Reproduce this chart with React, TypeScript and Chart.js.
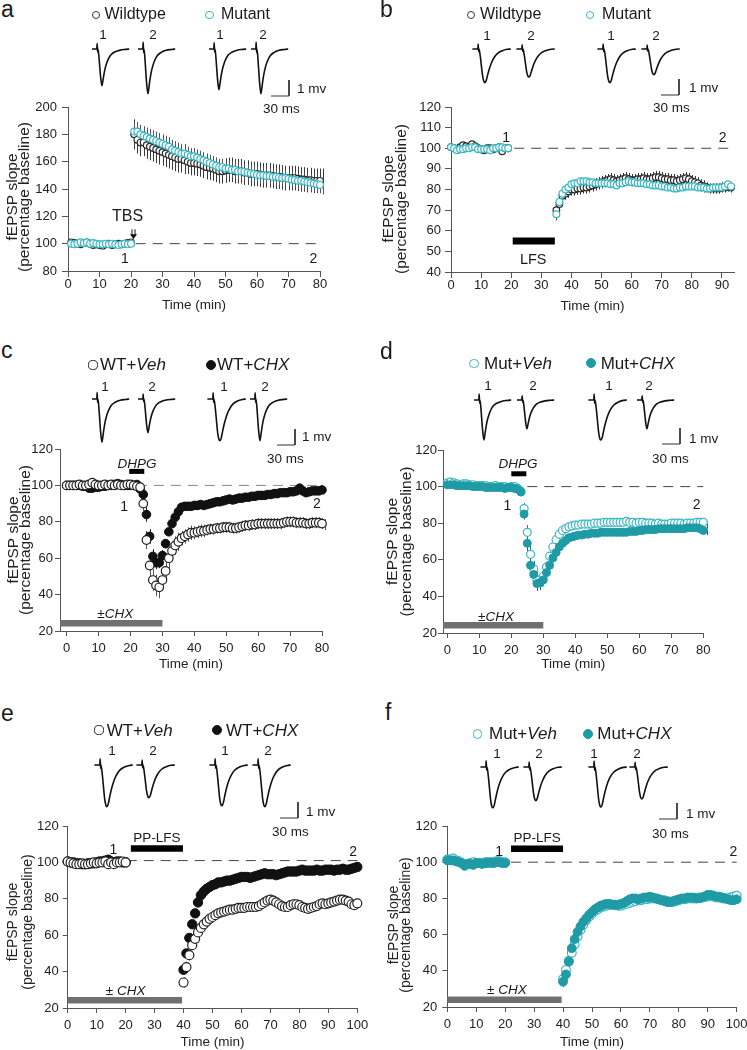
import React, { useEffect, useRef } from 'react';
import { Chart, registerables } from 'chart.js';

Chart.register(...registerables);

const FONT = "'Liberation Sans', Arial, Helvetica, sans-serif";
Chart.defaults.font.family = FONT;

const CYAN = '#3ab6c4';
const TEAL = '#1f9ba6';

// ---------------- DATA ----------------
// panel a: LTP (TBS), fEPSP slope (% baseline) vs time (min)
const A_TIME = [1,2,3,4,5,6,7,8,9,10,11,12,13,14,15,16,17,18,19,20,21,22,23,24,25,26,27,28,29,30,31,32,33,34,35,36,37,38,39,40,41,42,43,44,45,46,47,48,49,50,51,52,53,54,55,56,57,58,59,60,61,62,63,64,65,66,67,68,69,70,71,72,73,74,75,76,77,78,79,80,81];
const A_WT = [101,100.5,100,99.5,100.5,101,100,99,99.5,99,98.5,99.5,100,99,99.5,100,99.5,100,100.5,101,
  180,176,174,174,172,171,170,169,168,167,
  166,165,164,163,162,162,161,160,159,159,
  158.5,158,157,156,155.5,155,154,153,153,153.5,
  154,154,153,153,153,152,152,151,151,151,
  150.5,150,150,150,149.5,149,149,148.5,148,148,
  148,148,147.5,147,147,146.5,146.5,146,146,146,
  146];
const A_WT_ERR = [1,1,1,1,1,1,1,1,1,1,1,1,1,1,1,1,1,1,1,1,
  11,10,10,10,10,10,10,10,10,10,
  10,10,10,10,10,10,10,9,9,9,
  9,9,9,9,9,9,9,9,9,9,
  9,9,9,9,9,9,9,9,9,9,
  9,9,9,9,9,9,9,9,9,9,
  9,9,9,9,9,9,9,9,9,9,
  9];
const A_MUT = [100,99.5,100,101,100.5,101,100,100.5,100,99.5,99.5,100,99.5,100,99.5,99,99.5,100,99.5,100,
  182,182,180,179,178,177,176,175,174,173,
  172,171,169,168,167,166,166,165,164,164,
  163,162,161,160,159,158,157,156,156,155,
  155,154,154,153,153,152.5,152,151.5,151,150.5,
  150,150,149.5,149.5,149,149,148.5,148,148,147.5,
  147,146.5,146,146,145.5,145,144.5,144,143.5,143,
  142];
const A_MUT_ERR = [1,1,1,1,1,1,1,1,1,1,1,1,1,1,1,1,1,1,1,1,
  7,7,7,7,7,7,7,7,7,7,
  7,7,7,7,7,7,7,6,6,6,
  6,6,6,6,6,6,6,6,6,6,
  6,6,6,6,6,6,6,6,6,6,
  6,6,6,6,6,6,6,6,6,6,
  6,6,6,6,6,6,6,6,6,6,
  6];

// panel b: LTD (LFS)
const B_TIME = [0,1,2,3,4,5,6,7,8,9,10,11,12,13,14,15,16,17,18,19,
  35,36,37,38,39,40,41,42,43,44,45,46,47,48,49,50,51,52,53,54,55,56,57,58,59,60,61,62,63,64,
  65,66,67,68,69,70,71,72,73,74,75,76,77,78,79,80,81,82,83,84,85,86,87,88,89,90,91,92,93];
const B_WT = [100.5,100,99.5,100.5,101.5,101,100.5,102,101,100,99.5,99,100,100,99.5,100,100.5,98.5,100,100,
  70,73,77,78,79,80,80,80.5,80.5,81,
  81,81.5,82,82.5,83,83.5,84,84.5,85,84.5,
  84,84.5,85,85.5,85,84.5,84.5,85,85,85.5,
  85,85,85.5,86,86,85.5,85,85,84.5,84.5,
  84,84.5,85,85.5,85,84,83.5,83,82,81.5,
  81,80.5,80.5,80.5,80.5,81,81,81.5,81];
const B_WT_ERR = [1.5,1.5,1.5,1.5,1.5,1.5,1.5,1.5,1.5,1.5,1.5,1.5,1.5,1.5,1.5,1.5,1.5,1.5,1.5,1.5,
  4,3.5,3,3,3,3,3,3,3,3,
  3,3,3,3,3,3,3,3,3,3,
  3,3,3,3,3,3,3,3,3,3,
  3,3,3,3,3,3,3,3,3,3,
  3,3,3,3,3,3,3,3,3,3,
  2.5,2.5,2.5,2.5,2.5,2.5,2.5,2.5,2.5];
const B_MUT = [100.5,100,99,99.5,99.5,100,100,100.5,100.5,99.5,99.5,99.5,99.5,99,100,100,100.5,100.5,100,100,
  68,74,78,80,81,82.5,83,83,84,84,
  84,83.5,83.5,83,83,83,83,83,82.5,82.5,
  82,83,83,83.5,84,83.5,83.5,83,83,83,
  82.5,82.5,82,82,82,81.5,81.5,81,81,80.5,
  80.5,81,81,81.5,81.5,81.5,81.5,81,81,81,
  80.5,80.5,81,81,81,81,81.5,82.5,81.5];
const B_MUT_ERR = [0.8,0.8,0.8,0.8,0.8,0.8,0.8,0.8,0.8,0.8,0.8,0.8,0.8,0.8,0.8,0.8,0.8,0.8,0.8,0.8,
  3,2,2,1.5,1.5,1.5,1.5,1.5,1.5,1.5,
  1.5,1.5,1.5,1.5,1.5,1.5,1.5,1.5,1.5,1.5,
  1.5,1.5,1.5,1.5,1.5,1.5,1.5,1.5,1.5,1.5,
  1.5,1.5,1.5,1.5,1.5,1.5,1.5,1.5,1.5,1.5,
  1.5,1.5,1.5,1.5,1.5,1.5,1.5,1.5,1.5,1.5,
  1.5,1.5,1.5,1.5,1.5,1.5,1.5,1.5,1.5];

// panel c: WT, DHPG +/- CHX
const C_TIME = [0,1,2,3,4,5,6,7,8,9,10,11,12,13,14,15,16,17,18,19,20,21,22,23,24,25,26,27,28,29,30,31,32,33,34,35,36,37,38,39,40,41,42,43,44,45,46,47,48,49,50,51,52,53,54,55,56,57,58,59,60,61,62,63,64,65,66,67,68,69,70,71,72,73,74,75,76,77,78,79,80,81];
const C_VEH = [100,100,100,100,100.5,100,100,100.5,101.5,100.5,
  100,100,100.5,100,100.5,100,100.5,100,100,100.5,
  100.5,100,99.5,99,90,70,56,48,45,44,
  48,53,60,64,67,69,71,72,73,74,
  74,74.5,75,75,75.5,76,76,76.5,76.5,77,
  77,77,76.5,76.5,77,77.5,78,78,78.5,78.5,
  79,79,79,79,79,79,79,79,79.5,80,
  80,80,79.5,79.5,79.5,79,79,79.5,79.5,79.5,
  79,78.5];
const C_VEH_ERR = [1,1,1,1,1,1,1,1,1,1,
  1,1,1,1,1,1,1,1,1,1,
  1,1,1,1.5,4,5,6,6,6,6,
  6,6,6,5,5,5,4,4,4,4,
  3.5,3.5,3.5,3.5,3,3,3,3,3,3,
  3,3,3,3,3,3,3,3,3,3,
  3,3,3,3,3,3,3,3,3,3,
  3,3,3,3,3,3,3,3,3,3,
  3,3];
const C_CHX = [100,100,100,100,100,99.5,99.5,98.5,98.5,99,
  99,99.5,99.5,100,100,100.5,101,100.5,100,100,
  100,100,100.5,98,95,84,72,61,57.5,57.5,
  61.5,68,74.5,79,82.5,85.5,88,88.5,88.5,88.5,
  89,89,89.5,89,89.5,90,90.5,91,91,91.5,
  92,92.5,92,92.5,93,93,93.5,93.5,94,94,
  94.5,94.5,94.5,95,95,95.5,95.5,96,96,96,
  96.5,96.5,97,98.5,97,96,96.5,97,97,97,
  97.5,97.5];
const C_CHX_ERR = [0.8,0.8,0.8,0.8,0.8,0.8,0.8,0.8,0.8,0.8,
  0.8,0.8,0.8,0.8,0.8,0.8,0.8,0.8,0.8,0.8,
  0.8,0.8,0.8,1.5,3,4,4,4,3.5,3,
  3,2.5,2,1.5,1.5,1.5,1.5,1.5,1.5,1.5,
  1.5,1.5,1.5,1.5,1.5,1.5,1.5,1.5,1.5,1.5,
  1.5,1.5,1.5,1.5,1.5,1.5,1.5,1.5,1.5,1.5,
  1.5,1.5,1.5,1.5,1.5,1.5,1.5,1.5,1.5,1.5,
  1.5,1.5,1.5,1.5,1.5,1.5,1.5,1.5,1.5,1.5,
  1.5,1.5];

// panel d: mutant, DHPG +/- CHX
const D_TIME = [0,1,2,3,4,5,6,7,8,9,10,11,12,13,14,15,16,17,18,19,20,21,22,23,24,25,26,27,28,29,30,31,32,33,34,35,36,37,38,39,40,41,42,43,44,45,46,47,48,49,50,51,52,53,54,55,56,57,58,59,60,61,62,63,64,65,66,67,68,69,70,71,72,73,74,75,76,77,78,79,80,81];
const D_VEH = [102,102.5,102,101.5,101,101.5,101.5,101,101,100.5,
  100.5,100.5,100.5,100,100,100.5,100,100,100,99.5,
  100,100,99,97.5,88,75,63,55,49,47.5,
  51,56,62,67,71,74,76,77,78,78.5,
  79,79,79.5,79.5,79.5,79.5,80,80,80,80.5,
  80.5,80.5,80.5,80.5,80.5,80.5,81,80.5,80.5,80,
  80.5,80.5,80,80,80,79.5,80,79.5,79.5,79.5,
  80,80,80,80,79.5,80,80,80,80.5,80.5,
  80.5,78.5];
const D_VEH_ERR = [1,1,1,1,1,1,1,1,1,1,
  1,1,1,1,1,1,1,1,1,1,
  1,1,1,1.5,3,4,4.5,4.5,4.5,4,
  3.5,3,2.5,2,2,1.5,1.5,1.5,1.5,1.5,
  1.5,1.5,1.5,1.5,1.5,1.5,1.5,1.5,1.5,1.5,
  1.5,1.5,1.5,1.5,1.5,1.5,1.5,1.5,1.5,1.5,
  1.5,1.5,1.5,1.5,1.5,1.5,1.5,1.5,1.5,1.5,
  1.5,1.5,1.5,1.5,1.5,1.5,1.5,1.5,1.5,1.5,
  1.5,1.5];
const D_CHX = [101,101,101,100.5,100.5,100.5,100.5,100.5,100,100,
  100,100,99.5,99.5,99.5,99.5,99.5,99.5,99,99.5,
  99.5,99,98.5,97,85,69,57,52,47,47.5,
  49,53,57,61,64,67,69,70.5,72,72.5,
  73,73.5,73.5,74,74,74.5,74.5,74.5,75,75,
  75,75,75,75,75,75,75,75.5,75.5,75.5,
  76,76,76.5,76.5,76.5,76.5,77,77,77,77,
  77,77,77,77,77,77.5,77.5,77.5,77.5,77,
  76,75];
const D_CHX_ERR = [1,1,1,1,1,1,1,1,1,1,
  1,1,1,1,1,1,1,1,1,1,
  1,1,1,1.5,3,4.5,5,4.5,4,4,
  3.5,3,2.5,2,2,1.5,1.5,1.5,1.5,1.5,
  1.5,1.5,1.5,1.5,1.5,1.5,1.5,1.5,1.5,1.5,
  1.5,1.5,1.5,1.5,1.5,1.5,1.5,1.5,1.5,1.5,
  1.5,1.5,1.5,1.5,1.5,1.5,1.5,1.5,1.5,1.5,
  1.5,1.5,1.5,1.5,1.5,1.5,1.5,1.5,1.5,1.5,
  1.5,1.5];

// panel e: WT, PP-LFS +/- CHX
const E_TIME = [0,1,2,3,4,5,6,7,8,9,10,11,12,13,14,15,16,17,18,19,20,
  40,41,42,43,44,45,46,47,48,49,50,51,52,53,54,55,56,57,58,59,60,61,62,63,64,65,66,67,68,69,70,
  71,72,73,74,75,76,77,78,79,80,81,82,83,84,85,86,87,88,89,90,91,92,93,94,95,96,97,98,99,100];
const E_VEH = [100.5,100,99.5,99,99,99.5,99,99,99.5,100,
  99.5,100,100,100.5,99,100,99,100,100,100.5,
  100,
  34,42.5,49,54.5,58,61.5,64,66,67.5,69,
  70,71,72,72.5,73,73.5,74,74,74.5,75,
  75,75,75.5,75.5,75.5,75.5,76,77,78,79,
  79.5,79,78,77,76,75.5,75.5,76.5,77,77,
  76.5,75.5,75,74.5,75,75.5,76,77,77.5,77,
  77.5,78,78.5,79,79.5,79.5,79,78.5,77,76.5,
  77.5];
const E_VEH_ERR = [1,1,1,1,1,1,1,1,1,1,
  1,1,1,1,1,1,1,1,1,1,
  1,
  3,3,3,2.5,2.5,2.5,2.5,2.5,2.5,2.5,
  2.5,2.5,2.5,2.5,2.5,2.5,2.5,2.5,2.5,2.5,
  2.5,2.5,2.5,2.5,2.5,2.5,2.5,2.5,2.5,2.5,
  2.5,2.5,2.5,2.5,2.5,2.5,2.5,2.5,2.5,2.5,
  2.5,2.5,2.5,2.5,2.5,2.5,2.5,2.5,2.5,2.5,
  2.5,2.5,2.5,2.5,2.5,2.5,2.5,2.5,2.5,2.5,
  2.5];
const E_CHX = [100.5,100,100,99.5,99.5,99,99,99.5,99.5,99.5,
  100,100.5,100.5,101,101.5,100.5,100,100.5,100.5,100,
  100,
  41,50,58.5,66,72,78,82,84,85.5,86.5,
  87.5,88,89,89,89.5,90,90,90.5,91,91.5,
  92,92,92,91.5,92,92.5,93,93.5,94,93.5,
  93.5,93.5,93,93.5,94,94.5,95,95,95,95,
  95.5,96,95.5,95.5,95.5,95.5,96,95.5,95.5,96,
  96,96,95.5,96,96,96.5,96,96,96.5,97,
  97.5];
const E_CHX_ERR = [0.8,0.8,0.8,0.8,0.8,0.8,0.8,0.8,0.8,0.8,
  0.8,0.8,0.8,0.8,0.8,0.8,0.8,0.8,0.8,0.8,
  0.8,
  2,2,1.5,1.5,1,1,1,1,1,1,
  1,1,1,1,1,1,1,1,1,1,
  1,1,1,1,1,1,1,1,1,1,
  1,1,1,1,1,1,1,1,1,1,
  1,1,1,1,1,1,1,1,1,1,
  1,1,1,1,1,1,1,1,1,1,
  1];

// panel f: mutant, PP-LFS +/- CHX
const F_TIME = [0,1,2,3,4,5,6,7,8,9,10,11,12,13,14,15,16,17,18,19,20,
  40,41,42,43,44,45,46,47,48,49,50,51,52,53,54,55,56,57,58,59,60,61,62,63,64,65,66,67,68,69,70,
  71,72,73,74,75,76,77,78,79,80,81,82,83,84,85,86,87,88,89,90,91,92,93,94,95,96,97,98,99,100];
const F_VEH = [101.5,101.5,102,101,100.5,99.5,98.5,99,99.5,100,
  99.5,99.5,99.5,100,99.5,99.5,100,100.5,100.5,100,
  100,
  35.5,40.5,45.5,50,54.5,59,62.5,65.5,68,70,
  71.5,73,74,75,75.5,76,76.5,76.5,76.5,76,
  76,76.5,77,77.5,78,78.5,79,79,79.5,79.5,
  80,80,80,79.5,79,79,78.5,78,78,78.5,
  79,79.5,79.5,80,80,80,80,80.5,80.5,81,
  81,81.5,81,80.5,80.5,80,80,80,80.5,81,
  81.5];
const F_VEH_ERR = [1.2,1.2,1.2,1.2,1.2,1.2,1.2,1.2,1.2,1.2,
  1.2,1.2,1.2,1.2,1.2,1.2,1.2,1.2,1.2,1.2,
  1.2,
  3,2.5,2.5,2,2,2,2,1.5,1.5,1.5,
  1.5,1.5,1.5,1.5,1.5,1.5,1.5,1.5,1.5,1.5,
  1.5,1.5,1.5,1.5,1.5,1.5,1.5,1.5,1.5,1.5,
  1.5,1.5,1.5,1.5,1.5,1.5,1.5,1.5,1.5,1.5,
  1.5,1.5,1.5,1.5,1.5,1.5,1.5,1.5,1.5,1.5,
  1.5,1.5,1.5,1.5,1.5,1.5,1.5,1.5,1.5,1.5,
  1.5];
const F_CHX = [101,101,101,100.5,100,99.5,98,99,99,98.5,
  99.5,99.5,99,99.5,100,100,99.5,100,100,99.5,
  99.5,
  34,38,45,52.5,57.5,61.5,64.5,67,69,71,
  72.5,74,75,76,76.5,77,77,76.5,76.5,76.5,
  77,77.5,78.5,79.5,80,80,79.5,80,80.5,80.5,
  81,80.5,80,79.5,79,78.5,78,78,78.5,79,
  79.5,80,80,80.5,80.5,80.5,80,80,80.5,81,
  82,82,81.5,81,81,80.5,80,79.5,79,79,
  79.5];
const F_CHX_ERR = [1.2,1.2,1.2,1.2,1.2,1.2,1.2,1.2,1.2,1.2,
  1.2,1.2,1.2,1.2,1.2,1.2,1.2,1.2,1.2,1.2,
  1.2,
  3,2.5,2.5,2,2,2,2,1.5,1.5,1.5,
  1.5,1.5,1.5,1.5,1.5,1.5,1.5,1.5,1.5,1.5,
  1.5,1.5,1.5,1.5,1.5,1.5,1.5,1.5,1.5,1.5,
  1.5,1.5,1.5,1.5,1.5,1.5,1.5,1.5,1.5,1.5,
  1.5,1.5,1.5,1.5,1.5,1.5,1.5,1.5,1.5,1.5,
  1.5,1.5,1.5,1.5,1.5,1.5,1.5,1.5,1.5,1.5,
  1.5];

// example fEPSP waveforms (normalised to trough), time in ms
const WAVE_SHARP_MS = [0, 8, 8.6, 9.4, 10, 12, 14, 16.5, 18, 20, 22, 25, 28, 32, 38, 47, 56, 62];
const WAVE_SHARP_MV = [0, 0, 0.15, -0.08, 0, -0.3, -0.7, -1, -0.88, -0.68, -0.52, -0.36, -0.25, -0.15, -0.08, -0.03, -0.01, 0];
const WAVE_BROAD_MS = [0, 9, 9.6, 10.4, 11, 13, 15, 17, 19, 21, 23, 25, 28, 32, 36, 42, 50, 58, 64];
const WAVE_BROAD_MV = [0, 0, 0.15, -0.08, 0, -0.2, -0.5, -0.8, -0.96, -1, -0.94, -0.8, -0.6, -0.4, -0.26, -0.13, -0.05, -0.01, 0];
// trough amplitudes (mV) of the traces 1, 2 (left group) and 1, 2 (right group)
const A_TRACE_PEAK_MV = [2.3, 2.8, 2.55, 2.8];
const B_TRACE_PEAK_MV = [2.1, 1.75, 2.1, 1.6];
const C_TRACE_PEAK_MV = [2.7, 2.1, 2.6, 2.6];
const D_TRACE_PEAK_MV = [2.5, 1.8, 2.5, 1.8];
const E_TRACE_PEAK_MV = [2.6, 2.05, 2.55, 2.6];
const F_TRACE_PEAK_MV = [2.55, 2.1, 2.5, 2.0];
const SCALE_MV = 1;
const SCALE_MS = 30;
const Y_TITLE_LINES = ['fEPSP slope', '(percentage baseline)'];
const X_TITLE = 'Time (min)';

// ---------------- LAYOUT ----------------
type Seg = { t: string; i?: boolean };
const S = (t: string): Seg[] => [{ t }];

const SHAPES: Record<string, [number[], number[]]> = {
  S: [WAVE_SHARP_MS, WAVE_SHARP_MV],
  B: [WAVE_BROAD_MS, WAVE_BROAD_MV],
};

function openSeries(label: string, time: number[], values: number[], errs: number[], stroke: string, radius: number, errColor: string, order: number) {
  return { label, time, values, errs, stroke, fill: '#ffffff', radius, bw: 1.2, errColor, order };
}
function filledSeries(label: string, time: number[], values: number[], errs: number[], color: string, radius: number, errColor: string, order: number) {
  return { label, time, values, errs, stroke: color, fill: color, radius, bw: 1, errColor, order };
}

const PANELS: any[] = [
  {
    id: 'a', letter: { x: 1, y: 17.5 },
    legend: [
      { cx: 96, cy: 15, r: 4, stroke: '#333', fill: '#fff', tx: 104.5, ty: 19.5, size: 16, parts: S('Wildtype') },
      { cx: 209.5, cy: 15, r: 4.4, stroke: CYAN, fill: '#fff', tx: 221, ty: 19.5, size: 16, parts: S('Mutant') },
    ],
    traces: { baseline: 49, cx: 0, w: 374, starts: [92, 138, 209, 251], shapes: ['S', 'S', 'S', 'S'], peaks: A_TRACE_PEAK_MV,
      labelX: [103, 153, 220, 263], labelY: 39.5, bar: { x: 289, y: 96 }, mv: { x: 297, y: 93.5 }, ms: { x: 263, y: 113.5 } },
    canvas: { x: 0, y: 92, w: 345, h: 226 }, plot: { l: 68, r: 320, t: 107, b: 271 },
    xr: { min: 0, max: 80, step: 10 }, yr: { min: 80, max: 200, step: 20 },
    tick: { len: 6, xpad: 0, ypad: 5 },
    xTitleY: 305, yTitle: { size: 15.5, x1: 13, x2: 25, cy: 197 },
    refLine: { y: 100, from: 21.5, to: 80, color: '#444' },
    bars: [],
    notes: [
      { x: 18.9, y: 120.5, size: 16, parts: S('TBS') },
      { x: 18.1, y: 89.3, size: 14, parts: S('1') },
      { x: 77.9, y: 89.3, size: 14, parts: S('2') },
    ],
    arrow: { x: 20.5, y1: 110.5, y2: 103.2 },
    series: [
      openSeries('Wildtype', A_TIME, A_WT, A_WT_ERR, '#2b2b2b', 3.3, '#3a3a3a', 2),
      openSeries('Mutant', A_TIME, A_MUT, A_MUT_ERR, CYAN, 3.4, '#555', 1),
    ],
  },
  {
    id: 'b', letter: { x: 380, y: 17.5 },
    legend: [
      { cx: 471, cy: 15, r: 4, stroke: '#333', fill: '#fff', tx: 480, ty: 20, size: 16, parts: S('Wildtype') },
      { cx: 590, cy: 15, r: 4.4, stroke: CYAN, fill: '#fff', tx: 602, ty: 20, size: 16, parts: S('Mutant') },
    ],
    traces: { baseline: 49, cx: 374, w: 373, starts: [472.4, 516.4, 597.4, 641.4], shapes: ['B', 'B', 'B', 'B'], peaks: B_TRACE_PEAK_MV,
      labelX: [487, 531, 611, 656], labelY: 40.7, bar: { x: 679, y: 95 }, mv: { x: 689, y: 92.3 }, ms: { x: 653, y: 112.7 } },
    canvas: { x: 374, y: 92, w: 373, h: 226 }, plot: { l: 451, r: 734, t: 107, b: 272 },
    xr: { min: 0, max: 94, step: 10 }, yr: { min: 40, max: 120, step: 10 },
    tick: { len: 6, xpad: 0, ypad: 4 },
    xTitleY: 306.7, yTitle: { size: 15.5, x1: 389, x2: 402, cy: 199 },
    refLine: { y: 100, from: 21, to: 94, color: '#444' },
    bars: [{ from: 20.5, to: 34.5, y: 55, width: 7, color: '#000' }],
    notes: [
      { x: 27.3, y: 46.6, size: 14.5, parts: S('LFS') },
      { x: 18.3, y: 105.3, size: 14, parts: S('1') },
      { x: 90.2, y: 105.3, size: 14, parts: S('2') },
    ],
    series: [
      openSeries('Wildtype', B_TIME, B_WT, B_WT_ERR, '#2b2b2b', 3.3, '#333', 2),
      openSeries('Mutant', B_TIME, B_MUT, B_MUT_ERR, CYAN, 3.4, '#555', 1),
    ],
  },
  {
    id: 'c', letter: { x: 1, y: 358.5 },
    legend: [
      { cx: 93, cy: 365, r: 4.6, stroke: '#222', fill: '#fff', tx: 100, ty: 370, size: 17, parts: [{ t: 'WT+' }, { t: 'Veh', i: true }] },
      { cx: 211, cy: 365, r: 5, stroke: '#111', fill: '#111', tx: 217, ty: 370, size: 17, parts: [{ t: 'WT+' }, { t: 'CHX', i: true }] },
    ],
    traces: { baseline: 399, cx: 0, w: 374, starts: [92, 138, 207.4, 250], shapes: ['S', 'S', 'B', 'S'], peaks: C_TRACE_PEAK_MV,
      labelX: [105, 152, 224, 265], labelY: 391.7, bar: { x: 295, y: 445 }, mv: { x: 302, y: 441.7 }, ms: { x: 267, y: 463.3 } },
    canvas: { x: 0, y: 436, w: 345, h: 244 }, plot: { l: 60, r: 322, t: 449, b: 631 },
    xr: { min: -2.1, max: 80, step: 10 }, yr: { min: 20, max: 120, step: 20 },
    tick: { len: 5, xpad: 5, ypad: 2 },
    xTitleY: 664, yTitle: { size: 15.5, x1: 13.3, x2: 25.5, cy: 540 },
    refLine: { y: 100, from: 22, to: 80, color: '#888' },
    bars: [
      { from: 19.6, to: 24.3, y: 107.7, width: 5, color: '#000' },
      { from: -2.1, to: 30, y: 24.2, width: 6.5, color: '#707070' },
    ],
    notes: [
      { x: 22, y: 112.3, size: 13.5, parts: [{ t: 'DHPG', i: true }] },
      { x: 15.2, y: 29.9, size: 13.5, parts: [{ t: '±' }, { t: 'CHX', i: true }] },
      { x: 18, y: 88.8, size: 14, parts: S('1') },
      { x: 78.4, y: 90.6, size: 14, parts: S('2') },
    ],
    series: [
      openSeries('WT+Veh', C_TIME, C_VEH, C_VEH_ERR, '#222', 4.3, '#555', 1),
      filledSeries('WT+CHX', C_TIME, C_CHX, C_CHX_ERR, '#111', 4.3, '#222', 2),
    ],
  },
  {
    id: 'd', letter: { x: 380, y: 359.5 },
    legend: [
      { cx: 474, cy: 363.3, r: 4.6, stroke: CYAN, fill: '#fff', tx: 484, ty: 369.3, size: 17, parts: [{ t: 'Mut+' }, { t: 'Veh', i: true }] },
      { cx: 591.3, cy: 363.3, r: 5, stroke: TEAL, fill: TEAL, tx: 600.7, ty: 369.3, size: 17, parts: [{ t: 'Mut+' }, { t: 'CHX', i: true }] },
    ],
    traces: { baseline: 400, cx: 374, w: 373, starts: [474, 517, 588.4, 637], shapes: ['S', 'S', 'B', 'S'], peaks: D_TRACE_PEAK_MV,
      labelX: [488, 533, 609, 649], labelY: 390, bar: { x: 680, y: 444 }, mv: { x: 689, y: 443.3 }, ms: { x: 652, y: 463.3 } },
    canvas: { x: 374, y: 436, w: 373, h: 244 }, plot: { l: 443, r: 703.3, t: 450, b: 633 },
    xr: { min: -1.34, max: 80, step: 10 }, yr: { min: 20, max: 120, step: 20 },
    tick: { len: 5, xpad: 5, ypad: 1 },
    xTitleY: 664, yTitle: { size: 15.5, x1: 392.3, x2: 407, cy: 541.5 },
    refLine: { y: 100, from: 25, to: 80, color: '#444' },
    bars: [
      { from: 20, to: 24.7, y: 107, width: 5, color: '#000' },
      { from: -1.34, to: 30, y: 24.2, width: 6.5, color: '#707070' },
    ],
    notes: [
      { x: 22.1, y: 112.9, size: 13.5, parts: [{ t: 'DHPG', i: true }] },
      { x: 15.2, y: 29.4, size: 13.5, parts: [{ t: '±' }, { t: 'CHX', i: true }] },
      { x: 18.75, y: 90, size: 14, parts: S('1') },
      { x: 77.9, y: 90.5, size: 14, parts: S('2') },
    ],
    series: [
      openSeries('Mut+Veh', D_TIME, D_VEH, D_VEH_ERR, CYAN, 4, '#3d6a6f', 2),
      filledSeries('Mut+CHX', D_TIME, D_CHX, D_CHX_ERR, TEAL, 4, '#2f5f63', 1),
    ],
  },
  {
    id: 'e', letter: { x: 1, y: 721.7 },
    legend: [
      { cx: 99, cy: 730, r: 4.6, stroke: '#222', fill: '#fff', tx: 106.7, ty: 736, size: 17, parts: [{ t: 'WT+' }, { t: 'Veh', i: true }] },
      { cx: 216.7, cy: 730, r: 5, stroke: '#111', fill: '#111', tx: 226, ty: 736, size: 17, parts: [{ t: 'WT+' }, { t: 'CHX', i: true }] },
    ],
    traces: { baseline: 765, cx: 0, w: 374, starts: [94.4, 136.4, 209.4, 252.4], shapes: ['B', 'B', 'B', 'B'], peaks: E_TRACE_PEAK_MV,
      labelX: [112, 153, 225, 268], labelY: 755, bar: { x: 298, y: 818 }, mv: { x: 306, y: 816.7 }, ms: { x: 272, y: 836.7 } },
    canvas: { x: 0, y: 812, w: 374, h: 238 }, plot: { l: 67.7, r: 357.3, t: 826, b: 1008 },
    xr: { min: 0, max: 100, step: 10 }, yr: { min: 20, max: 120, step: 20 },
    tick: { len: 5, xpad: 5, ypad: 4 },
    xTitleY: 1042, yTitle: { size: 14, x1: 13.3, x2: 28, cy: 922 },
    refLine: { y: 101, from: 20.4, to: 100, color: '#444' },
    bars: [
      { from: 21.8, to: 39.8, y: 107.7, width: 6.5, color: '#000' },
      { from: 0, to: 39.5, y: 24.2, width: 6.5, color: '#707070' },
    ],
    notes: [
      { x: 30.8, y: 114.1, size: 13.5, parts: S('PP-LFS') },
      { x: 20, y: 29.7, size: 13.5, parts: [{ t: '± ' }, { t: 'CHX', i: true }] },
      { x: 15.75, y: 107.2, size: 14, parts: S('1') },
      { x: 98.6, y: 106.4, size: 14, parts: S('2') },
    ],
    series: [
      openSeries('WT+Veh', E_TIME, E_VEH, E_VEH_ERR, '#222', 4.5, '#777', 1),
      filledSeries('WT+CHX', E_TIME, E_CHX, E_CHX_ERR, '#111', 4.7, '#333', 2),
    ],
  },
  {
    id: 'f', letter: { x: 385, y: 720 },
    legend: [
      { cx: 477.3, cy: 734, r: 4.6, stroke: CYAN, fill: '#fff', tx: 489, ty: 739.3, size: 17, parts: [{ t: 'Mut+' }, { t: 'Veh', i: true }] },
      { cx: 588, cy: 734, r: 5, stroke: TEAL, fill: TEAL, tx: 597.3, ty: 739.3, size: 17, parts: [{ t: 'Mut+' }, { t: 'CHX', i: true }] },
    ],
    traces: { baseline: 767, cx: 374, w: 373, starts: [480.4, 523.4, 588.4, 629.4], shapes: ['B', 'B', 'B', 'B'], peaks: F_TRACE_PEAK_MV,
      labelX: [497, 539, 594, 637], labelY: 758.3, bar: { x: 677, y: 819 }, mv: { x: 686, y: 818.3 }, ms: { x: 652, y: 838.3 } },
    canvas: { x: 374, y: 812, w: 373, h: 238 }, plot: { l: 447.3, r: 736.7, t: 826, b: 1007 },
    xr: { min: 0, max: 100, step: 10 }, yr: { min: 20, max: 120, step: 20 },
    tick: { len: 5, xpad: 5, ypad: 5 },
    xTitleY: 1042, yTitle: { size: 14, x1: 394, x2: 405.7, cy: 925 },
    refLine: { y: 100, from: 22, to: 100, color: '#444' },
    bars: [
      { from: 22, to: 40, y: 107.5, width: 6.5, color: '#000' },
      { from: 0, to: 39.5, y: 24, width: 6.5, color: '#707070' },
    ],
    notes: [
      { x: 31, y: 114, size: 13.5, parts: S('PP-LFS') },
      { x: 20.6, y: 29.7, size: 13.5, parts: [{ t: '± ' }, { t: 'CHX', i: true }] },
      { x: 17.9, y: 106.3, size: 14, parts: S('1') },
      { x: 98.9, y: 106.3, size: 14, parts: S('2') },
    ],
    series: [
      openSeries('Mut+Veh', F_TIME, F_VEH, F_VEH_ERR, CYAN, 4.4, '#3d5557', 2),
      filledSeries('Mut+CHX', F_TIME, F_CHX, F_CHX_ERR, TEAL, 4.4, '#2f5557', 1),
    ],
  },
];

// ---------------- DRAWING HELPERS ----------------
function drawRich(ctx: CanvasRenderingContext2D, parts: Seg[], cx: number, cy: number, size: number, color: string) {
  const fonts = parts.map((s) => `${s.i ? 'italic ' : ''}normal ${size}px ${FONT}`);
  let total = 0;
  const widths = parts.map((s, k) => {
    ctx.font = fonts[k];
    const w = ctx.measureText(s.t).width;
    total += w;
    return w;
  });
  let x = cx - total / 2;
  ctx.fillStyle = color;
  ctx.textAlign = 'left';
  ctx.textBaseline = 'alphabetic';
  parts.forEach((s, k) => {
    ctx.font = fonts[k];
    ctx.fillText(s.t, x, cy + 0.36 * size);
    x += widths[k];
  });
}

const errorBarPlugin = {
  id: 'errbars',
  beforeDatasetsDraw(chart: any) {
    const ctx: CanvasRenderingContext2D = chart.ctx;
    const ys = chart.scales.y;
    chart.data.datasets.forEach((d: any, i: number) => {
      if (!d.errs) return;
      const meta = chart.getDatasetMeta(i);
      ctx.save();
      ctx.strokeStyle = d.errColor;
      ctx.lineWidth = 1;
      ctx.beginPath();
      meta.data.forEach((pt: any, j: number) => {
        const e = d.errs[j];
        if (!e) return;
        const v = d.data[j].y;
        const x = Math.round(pt.x) + 0.5;
        ctx.moveTo(x, ys.getPixelForValue(v + e));
        ctx.lineTo(x, ys.getPixelForValue(v - e));
      });
      ctx.stroke();
      ctx.restore();
    });
  },
};

function makeNotesPlugin(p: any) {
  return {
    id: 'notes',
    afterDraw(chart: any) {
      const ctx: CanvasRenderingContext2D = chart.ctx;
      const xs = chart.scales.x;
      const ys = chart.scales.y;
      ctx.save();
      p.notes.forEach((n: any) => drawRich(ctx, n.parts, xs.getPixelForValue(n.x), ys.getPixelForValue(n.y), n.size, '#1a1a1a'));
      if (p.arrow) {
        const x = Math.round(xs.getPixelForValue(p.arrow.x));
        const y1 = ys.getPixelForValue(p.arrow.y1);
        const y2 = ys.getPixelForValue(p.arrow.y2);
        ctx.strokeStyle = '#111';
        ctx.lineWidth = 1;
        ctx.beginPath();
        ctx.moveTo(x - 1, y1); ctx.lineTo(x - 1, y2 - 4);
        ctx.moveTo(x + 2, y1); ctx.lineTo(x + 2, y2 - 4);
        ctx.stroke();
        ctx.fillStyle = '#111';
        ctx.beginPath();
        ctx.moveTo(x - 3, y2 - 5); ctx.lineTo(x + 4, y2 - 5); ctx.lineTo(x + 0.5, y2); ctx.closePath();
        ctx.fill();
      }
      const yt = p.yTitle;
      ctx.fillStyle = '#222';
      ctx.font = `normal ${yt.size}px ${FONT}`;
      ctx.textAlign = 'center';
      ctx.textBaseline = 'middle';
      [yt.x1, yt.x2].forEach((x: number, k: number) => {
        ctx.save();
        ctx.translate(x - p.canvas.x, yt.cy - p.canvas.y);
        ctx.rotate(-Math.PI / 2);
        ctx.fillText(Y_TITLE_LINES[k], 0, 0);
        ctx.restore();
      });
      ctx.restore();
    },
  };
}

function buildMainConfig(p: any): any {
  const cv = p.canvas, pl = p.plot;
  const datasets: any[] = p.series.map((s: any) => ({
    label: s.label,
    data: s.time.map((t: number, i: number) => ({ x: t, y: s.values[i] })),
    showLine: false,
    pointStyle: 'circle',
    pointRadius: s.radius,
    pointHoverRadius: s.radius,
    pointBorderWidth: s.bw,
    pointBorderColor: s.stroke,
    pointBackgroundColor: s.fill,
    order: s.order,
    clip: false,
    errs: s.errs,
    errColor: s.errColor,
  }));
  datasets.push({
    label: 'baseline',
    data: [{ x: p.refLine.from, y: p.refLine.y }, { x: p.refLine.to, y: p.refLine.y }],
    showLine: true, borderColor: p.refLine.color, borderWidth: 1, borderDash: [10, 7],
    pointRadius: 0, order: 20, clip: false,
  });
  p.bars.forEach((b: any) => datasets.push({
    label: 'bar',
    data: [{ x: b.from, y: b.y }, { x: b.to, y: b.y }],
    showLine: true, borderColor: b.color, borderWidth: b.width, borderCapStyle: 'butt',
    pointRadius: 0, order: 20, clip: false,
  }));
  const yW = pl.l - cv.x;
  const xH = cv.y + cv.h - pl.b;
  const xTitleLH = 13.5 * 1.2;
  const xTitlePad = Math.max(0, cv.y + cv.h - p.xTitleY - xTitleLH / 2);
  const axisColor = '#555';
  const tickFont = { size: 13, family: FONT, weight: 'normal' };
  return {
    type: 'scatter',
    data: { datasets },
    options: {
      animation: false,
      responsive: false,
      maintainAspectRatio: false,
      events: [],
      layout: { padding: { top: pl.t - cv.y, right: cv.x + cv.w - pl.r, left: 0, bottom: 0 }, autoPadding: false },
      plugins: { legend: { display: false }, tooltip: { enabled: false }, title: { display: false } },
      scales: {
        x: {
          type: 'linear', min: p.xr.min, max: p.xr.max,
          grid: { display: true, drawOnChartArea: false, drawTicks: true, tickLength: p.tick.len, color: axisColor, tickColor: axisColor, lineWidth: 1 },
          border: { display: true, color: axisColor, width: 1 },
          ticks: { stepSize: p.xr.step, includeBounds: false, autoSkip: false, maxRotation: 0, minRotation: 0, padding: p.tick.xpad, font: tickFont, color: '#222' },
          title: { display: true, text: X_TITLE, color: '#222', font: { size: 13.5, family: FONT, weight: 'normal' }, padding: { top: 0, bottom: xTitlePad } },
          afterFit: (s: any) => { s.height = xH; s.paddingLeft = 0; s.paddingRight = 0; },
        },
        y: {
          type: 'linear', min: p.yr.min, max: p.yr.max,
          grid: { display: true, drawOnChartArea: false, drawTicks: true, tickLength: p.tick.len, color: axisColor, tickColor: axisColor, lineWidth: 1 },
          border: { display: true, color: axisColor, width: 1 },
          ticks: { stepSize: p.yr.step, autoSkip: false, padding: p.tick.ypad, font: tickFont, color: '#222' },
          title: { display: false },
          afterFit: (s: any) => { s.width = yW; s.paddingTop = 0; s.paddingBottom = 0; },
        },
      },
    },
    plugins: [errorBarPlugin, makeNotesPlugin(p)],
  };
}

function buildTraceConfig(tr: any): any {
  const PX_PER_MS = 0.6;
  const PX_PER_MV = 16;
  const datasets: any[] = tr.starts.map((sx: number, k: number) => {
    const [ms, mv] = SHAPES[tr.shapes[k]];
    const off = (sx - tr.cx) / PX_PER_MS;
    return {
      data: ms.map((t, i) => ({ x: off + t, y: mv[i] * tr.peaks[k] })),
      showLine: true, pointRadius: 0, borderColor: '#111', borderWidth: 1.6,
      cubicInterpolationMode: 'monotone', clip: false,
    };
  });
  const bx = (tr.bar.x - tr.cx) / PX_PER_MS;
  const by = -(tr.bar.y - tr.baseline) / PX_PER_MV;
  datasets.push({
    data: [{ x: bx, y: by + SCALE_MV }, { x: bx, y: by }, { x: bx - SCALE_MS, y: by }],
    showLine: true, pointRadius: 0, borderColor: '#333', borderWidth: 1, tension: 0, clip: false,
  });
  return {
    type: 'scatter',
    data: { datasets },
    options: {
      animation: false, responsive: false, maintainAspectRatio: false, events: [],
      layout: { padding: 0, autoPadding: false },
      plugins: { legend: { display: false }, tooltip: { enabled: false } },
      scales: {
        x: { type: 'linear', display: false, min: 0, max: tr.w / PX_PER_MS },
        y: { type: 'linear', display: false, min: -60 / PX_PER_MV, max: 12 / PX_PER_MV },
      },
    },
  };
}

// ---------------- COMPONENTS ----------------
function ChartCanvas({ x, y, w, h, config }: { x: number; y: number; w: number; h: number; config: () => any }) {
  const ref = useRef<HTMLCanvasElement | null>(null);
  useEffect(() => {
    if (!ref.current) return;
    const chart = new Chart(ref.current, config());
    return () => chart.destroy();
  }, []);
  return (
    <canvas ref={ref} width={w} height={h}
      style={{ position: 'absolute', left: x, top: y, width: w, height: h, display: 'block' }} />
  );
}

function Txt({ x, y, size, align = 'left', children, italic = false }: any) {
  const style: any = {
    position: 'absolute', top: y - 0.8465 * size, fontSize: size, lineHeight: `${size}px`,
    whiteSpace: 'nowrap', color: '#1a1a1a', fontStyle: italic ? 'italic' : 'normal', fontWeight: 'normal',
  };
  if (align === 'center') { style.left = x; style.transform = 'translateX(-50%)'; }
  else style.left = x;
  return <div style={style}>{children}</div>;
}

function Panel({ p }: { p: any }) {
  const tr = p.traces;
  return (
    <>
      <ChartCanvas x={p.canvas.x} y={p.canvas.y} w={p.canvas.w} h={p.canvas.h} config={() => buildMainConfig(p)} />
      <ChartCanvas x={tr.cx} y={tr.baseline - 12} w={tr.w} h={72} config={() => buildTraceConfig(tr)} />
      <Txt x={p.letter.x} y={p.letter.y} size={23}>{p.id}</Txt>
      {p.legend.map((l: any, k: number) => (
        <React.Fragment key={k}>
          <div style={{
            position: 'absolute', left: l.cx - l.r, top: l.cy - l.r, width: 2 * l.r, height: 2 * l.r,
            borderRadius: '50%', border: `1.2px solid ${l.stroke}`, background: l.fill, boxSizing: 'border-box',
          }} />
          <Txt x={l.tx} y={l.ty} size={l.size}>
            {l.parts.map((s: Seg, j: number) => (s.i ? <i key={j}>{s.t}</i> : <span key={j}>{s.t}</span>))}
          </Txt>
        </React.Fragment>
      ))}
      {tr.labelX.map((x: number, k: number) => (
        <Txt key={k} x={x} y={tr.labelY} size={13.5} align="center">{k % 2 === 0 ? '1' : '2'}</Txt>
      ))}
      <Txt x={tr.mv.x} y={tr.mv.y} size={13.5}>{`${SCALE_MV} mv`}</Txt>
      <Txt x={tr.ms.x} y={tr.ms.y} size={13.5}>{`${SCALE_MS} ms`}</Txt>
    </>
  );
}

export default function App() {
  return (
    <div style={{
      position: 'absolute', left: 0, top: 0, width: 747, height: 1050, background: '#ffffff',
      overflow: 'hidden', fontFamily: FONT, color: '#1a1a1a',
    }}>
      {PANELS.map((p) => <Panel key={p.id} p={p} />)}
    </div>
  );
}
